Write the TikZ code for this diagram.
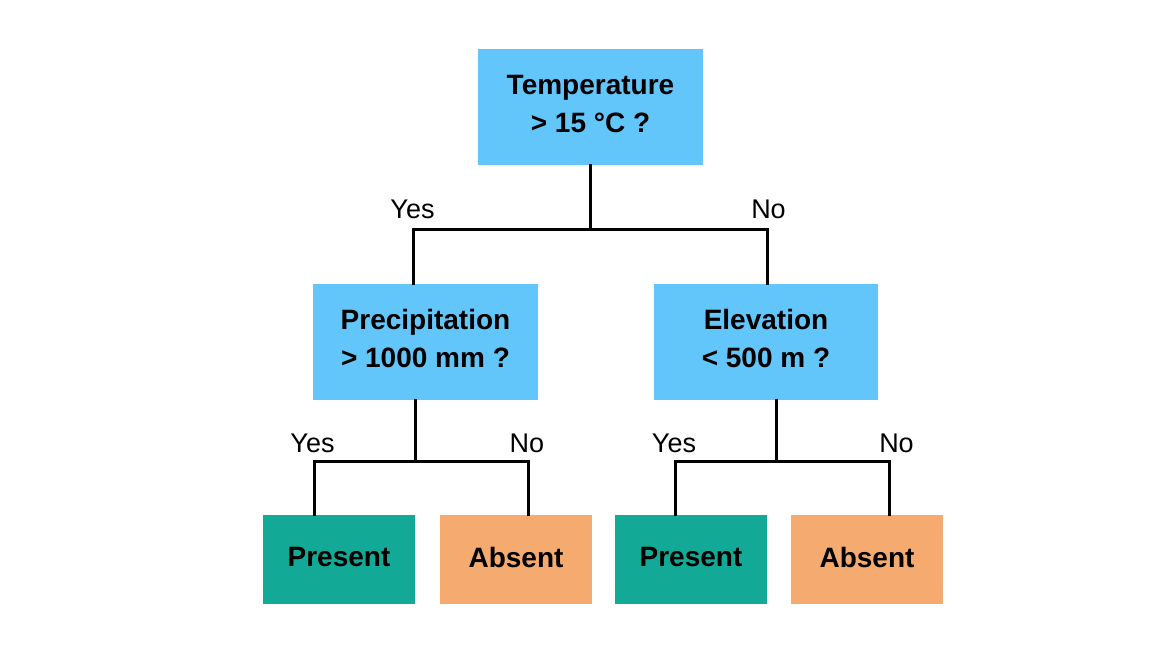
\documentclass[tikz,border=0pt]{standalone}
\usepackage{fontspec}
\setmainfont{Liberation Sans}
\begin{document}
\begin{tikzpicture}[x=1pt,y=-1pt,
  qbox/.style={fill=qblue,draw=none,minimum width=225pt,minimum height=116pt,align=center,
    font=\fontsize{28}{38}\selectfont\bfseries,inner sep=0pt,text depth=7pt},
  leafbox/.style={draw=none,minimum width=152pt,minimum height=89pt,
    font=\fontsize{28}{33}\selectfont\bfseries,inner sep=0pt,text depth=5pt},
  present/.style={leafbox,fill=presentc},
  absent/.style={leafbox,fill=absentc},
  lab/.style={font=\fontsize{27}{32}\selectfont,anchor=base,inner sep=0pt},
  conn/.style={line width=3pt,black,line join=miter,line cap=rect}]
\definecolor{qblue}{RGB}{99,198,250}
\definecolor{presentc}{RGB}{18,170,150}
\definecolor{absentc}{RGB}{245,170,112}
\useasboundingbox[fill=white] (0,0) rectangle (1168,661);

\node[qbox] (top) at (590.5,107) {Temperature\\> 15 °C ?};
\node[qbox] (prec) at (425.5,342) {Precipitation\\> 1000 mm ?};
\node[qbox,minimum width=224pt] (elev) at (766,342) {Elevation\\< 500 m ?};
\node[present] (p1) at (339,559.5) {Present};
\node[absent] (a1) at (516,559.5) {Absent};
\node[present] (p2) at (691,559.5) {Present};
\node[absent] (a2) at (867,559.5) {Absent};

\coordinate (j1) at (590.5,229.5);
\coordinate (j2) at (415,461.5);
\coordinate (j3) at (776,461.5);

\draw[conn] (top.south) -- (j1);
\draw[conn] (j1) -| ([xshift=-12pt]prec.north);
\draw[conn] (j1) -| ([xshift=1pt]elev.north);
\draw[conn] ([xshift=-10.5pt]prec.south) -- (j2);
\draw[conn] (j2) -| ([xshift=-25pt]p1.north);
\draw[conn] (j2) -| ([xshift=12.5pt]a1.north);
\draw[conn] ([xshift=10pt]elev.south) -- (j3);
\draw[conn] (j3) -| ([xshift=-16pt]p2.north);
\draw[conn] (j3) -| ([xshift=22.5pt]a2.north);

\node[lab] (y1) at (412.5,218) {Yes};
\node[lab] (n1) at (768.5,218) {No};
\node[lab] (y2) at (312.5,452) {Yes};
\node[lab] (n2) at (527,452) {No};
\node[lab] (y3) at (674,452) {Yes};
\node[lab] (n3) at (896.5,452) {No};
\end{tikzpicture}
\end{document}
